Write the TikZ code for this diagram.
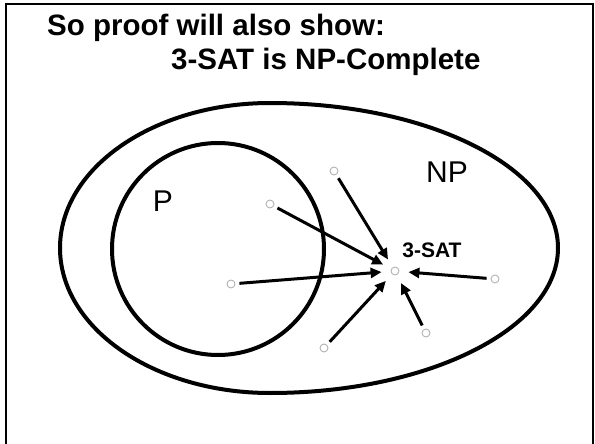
\documentclass[tikz,border=0pt]{standalone}
\usepackage{fontspec}
\setmainfont{Liberation Sans}
\usetikzlibrary{arrows.meta}
\begin{document}
\begin{tikzpicture}[x=1pt,y=-1pt,
  pt/.style={circle,draw=black!30,line width=0.9pt,minimum size=8pt,inner sep=0pt},
  arr/.style={line width=3pt,-{Triangle[length=11pt,width=10pt]},shorten <=4pt,shorten >=9pt},
  setline/.style={line width=4pt},
  ttl/.style={anchor=base west,inner sep=0pt,font=\fontsize{29.5}{29.5}\selectfont\bfseries},
  lbl/.style={inner sep=0pt,font=\fontsize{30}{30}\selectfont}]
\useasboundingbox (0,0) rectangle (595,444);
% frame
\draw[line width=2pt] (5.7,450) -- (5.7,4.3) -- (592.7,4.3) -- (592.7,450);
% title
\node[ttl] (t1) at (47,36) {So proof will also show:};
\node[ttl] (t2) at (171,70) {3-SAT is NP-Complete};
% NP region (egg shape)
\draw[setline] (270,103) arc[start angle=90,end angle=270,x radius=210,y radius=-145]
  arc[start angle=270,end angle=450,x radius=288,y radius=-145];
% P circle
\draw[setline] (218,249) circle[radius=106];
\node[lbl] (P) at (163,201) {P};
\node[lbl] (NP) at (447,172) {NP};
% points
\node[pt] (s) at (395,271) {};
\node[pt] (a) at (334,171) {};
\node[pt] (b) at (270,204) {};
\node[pt] (c) at (231,284) {};
\node[pt] (d) at (324,348) {};
\node[pt] (e) at (426,333) {};
\node[pt] (f) at (495,279) {};
\node[inner sep=0pt,font=\fontsize{21}{21}\selectfont\bfseries] (sat) at (432,250) {3-SAT};
\foreach \q in {a,b,c,d,e,f} \draw[arr] (\q) -- (s);
\end{tikzpicture}
\end{document}
